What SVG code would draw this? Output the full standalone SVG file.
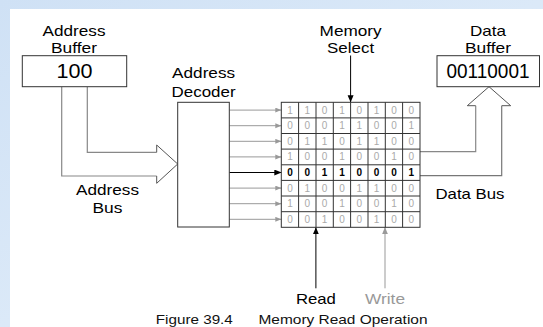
<svg xmlns="http://www.w3.org/2000/svg" width="543" height="327" viewBox="0 0 543 327">
<style>
.lbl{font-family:"Liberation Sans",Arial,sans-serif;font-size:15px;fill:#000;text-anchor:middle}
.big{font-family:"Liberation Sans",Arial,sans-serif;font-size:19.5px;fill:#000;text-anchor:middle}
.cap{font-family:"Liberation Sans",Arial,sans-serif;font-size:13px;fill:#111}
.d{font-family:"Liberation Sans",Arial,sans-serif;font-size:10px;fill:#aaa;text-anchor:middle}
.db{fill:#000;font-weight:bold}
.box{fill:#fff;stroke:#333;stroke-width:1}
.grid{fill:none;stroke:#333;stroke-width:1}
.g{stroke:#999;stroke-width:1;fill:none}
.k{stroke:#000;stroke-width:1;fill:none}
.bus{fill:none;stroke:#888;stroke-width:1.2}
.head{fill:none;stroke:#555;stroke-width:1}
</style>
<defs>
<marker id="ag" markerUnits="userSpaceOnUse" markerWidth="7" markerHeight="6" refX="6" refY="2.5" orient="auto"><path d="M0,0 L6,2.5 L0,5 z" fill="#999"/></marker>
<marker id="ak" markerUnits="userSpaceOnUse" markerWidth="7" markerHeight="7" refX="7" refY="3" orient="auto"><path d="M0,0 L7,3 L0,6 z" fill="#000"/></marker>
<marker id="ag2" markerUnits="userSpaceOnUse" markerWidth="7" markerHeight="7" refX="7" refY="3" orient="auto"><path d="M0,0 L7,3 L0,6 z" fill="#999"/></marker>
<linearGradient id="bg" x1="0" y1="0" x2="1" y2="1"><stop offset="0" stop-color="#cfe1f5"/><stop offset="0.5" stop-color="#dbe9f8"/><stop offset="1" stop-color="#d2e4f6"/></linearGradient>
</defs>
<rect x="0" y="0" width="543" height="327" fill="url(#bg)"/>
<rect x="10" y="9" width="533" height="318" fill="#fff"/>

<g id="connectors">
<path class="bus" d="M61.7,86.7 V176 H156.7"/>
<path class="bus" d="M87.3,86.7 V152.3 H156.7"/>
<path class="head" d="M156.7,152.3 V145 L177.7,164 L156.7,183.3 V176"/>
<path class="bus" d="M420,151.7 H475.7 V105.7"/>
<path class="bus" style="stroke:#777" d="M420,175.7 H501.7 V105.7"/>
<path class="head" d="M475.7,105.7 H467.3 L489,86.7 L510.7,105.7 H501.7"/>
<line class="g" x1="229.3" y1="110.1" x2="281.3" y2="110.1" marker-end="url(#ag)"/>
<line class="g" x1="229.3" y1="125.7" x2="281.3" y2="125.7" marker-end="url(#ag)"/>
<line class="g" x1="229.3" y1="141.3" x2="281.3" y2="141.3" marker-end="url(#ag)"/>
<line class="g" x1="229.3" y1="156.9" x2="281.3" y2="156.9" marker-end="url(#ag)"/>
<line class="k" x1="229.3" y1="172.5" x2="281.3" y2="172.5" marker-end="url(#ak)"/>
<line class="g" x1="229.3" y1="188.1" x2="281.3" y2="188.1" marker-end="url(#ag)"/>
<line class="g" x1="229.3" y1="203.7" x2="281.3" y2="203.7" marker-end="url(#ag)"/>
<line class="g" x1="229.3" y1="219.3" x2="281.3" y2="219.3" marker-end="url(#ag)"/>
<line class="k" x1="350.6" y1="55.5" x2="350.6" y2="102.3" marker-end="url(#ak)"/>
<line class="k" x1="315.9" y1="288.3" x2="315.9" y2="227.3" marker-end="url(#ak)"/>
<line class="g" x1="385" y1="288.3" x2="385" y2="227.3" marker-end="url(#ag2)"/>
</g>

<g id="address-buffer">
<text class="lbl" x="74" y="35.7" textLength="63" lengthAdjust="spacingAndGlyphs">Address</text>
<text class="lbl" x="74" y="53.3" textLength="46" lengthAdjust="spacingAndGlyphs">Buffer</text>
<rect class="box" x="22.3" y="55.7" width="104.4" height="31"/>
<text class="big" x="74.5" y="77.5" textLength="36" lengthAdjust="spacingAndGlyphs">100</text>
</g>

<g id="address-bus-label">
<text class="lbl" x="107.5" y="195" textLength="63" lengthAdjust="spacingAndGlyphs">Address</text>
<text class="lbl" x="107.5" y="213.3" textLength="30" lengthAdjust="spacingAndGlyphs">Bus</text>
</g>

<g id="address-decoder">
<text class="lbl" x="203.6" y="78.3" textLength="63" lengthAdjust="spacingAndGlyphs">Address</text>
<text class="lbl" x="203.6" y="96.7" textLength="64" lengthAdjust="spacingAndGlyphs">Decoder</text>
<rect class="box" x="177.7" y="102.3" width="51.6" height="124.7"/>
</g>

<g id="memory-select">
<text class="lbl" x="350.6" y="36" textLength="62" lengthAdjust="spacingAndGlyphs">Memory</text>
<text class="lbl" x="350.6" y="53.3" textLength="47" lengthAdjust="spacingAndGlyphs">Select</text>
</g>

<g id="memory-array">
<rect class="grid" x="281.3" y="102.3" width="138.7" height="125"/>
<path class="grid" d="M298.6,102.3V227.3M316,102.3V227.3M333.3,102.3V227.3M350.6,102.3V227.3M368,102.3V227.3M385.3,102.3V227.3M402.6,102.3V227.3M281.3,117.9H420M281.3,133.5H420M281.3,149.1H420M281.3,164.8H420M281.3,180.4H420M281.3,196H420M281.3,211.7H420"/>
<g class="d">
<text x="290" y="113.6">1</text><text x="307.3" y="113.6">1</text><text x="324.6" y="113.6">0</text><text x="342" y="113.6">1</text><text x="359.3" y="113.6">0</text><text x="376.6" y="113.6">1</text><text x="394" y="113.6">0</text><text x="411.3" y="113.6">0</text>
<text x="290" y="129.2">0</text><text x="307.3" y="129.2">0</text><text x="324.6" y="129.2">0</text><text x="342" y="129.2">1</text><text x="359.3" y="129.2">1</text><text x="376.6" y="129.2">0</text><text x="394" y="129.2">0</text><text x="411.3" y="129.2">1</text>
<text x="290" y="144.8">0</text><text x="307.3" y="144.8">1</text><text x="324.6" y="144.8">1</text><text x="342" y="144.8">0</text><text x="359.3" y="144.8">1</text><text x="376.6" y="144.8">1</text><text x="394" y="144.8">0</text><text x="411.3" y="144.8">0</text>
<text x="290" y="160.4">1</text><text x="307.3" y="160.4">0</text><text x="324.6" y="160.4">0</text><text x="342" y="160.4">1</text><text x="359.3" y="160.4">0</text><text x="376.6" y="160.4">0</text><text x="394" y="160.4">1</text><text x="411.3" y="160.4">0</text>
<g class="db">
<text x="290" y="176">0</text><text x="307.3" y="176">0</text><text x="324.6" y="176">1</text><text x="342" y="176">1</text><text x="359.3" y="176">0</text><text x="376.6" y="176">0</text><text x="394" y="176">0</text><text x="411.3" y="176">1</text>
</g>
<text x="290" y="191.6">0</text><text x="307.3" y="191.6">1</text><text x="324.6" y="191.6">0</text><text x="342" y="191.6">0</text><text x="359.3" y="191.6">1</text><text x="376.6" y="191.6">1</text><text x="394" y="191.6">0</text><text x="411.3" y="191.6">0</text>
<text x="290" y="207.2">1</text><text x="307.3" y="207.2">0</text><text x="324.6" y="207.2">0</text><text x="342" y="207.2">1</text><text x="359.3" y="207.2">0</text><text x="376.6" y="207.2">0</text><text x="394" y="207.2">1</text><text x="411.3" y="207.2">0</text>
<text x="290" y="222.8">0</text><text x="307.3" y="222.8">0</text><text x="324.6" y="222.8">1</text><text x="342" y="222.8">0</text><text x="359.3" y="222.8">0</text><text x="376.6" y="222.8">1</text><text x="394" y="222.8">0</text><text x="411.3" y="222.8">0</text>
</g>
</g>

<g id="data-buffer">
<text class="lbl" x="488" y="36" textLength="36" lengthAdjust="spacingAndGlyphs">Data</text>
<text class="lbl" x="488" y="53.3" textLength="46" lengthAdjust="spacingAndGlyphs">Buffer</text>
<rect class="box" x="437" y="55.7" width="102.5" height="31"/>
<text class="big" x="488" y="77.5" textLength="83" lengthAdjust="spacingAndGlyphs">00110001</text>
</g>

<g id="data-bus-label">
<text class="lbl" x="470" y="199" textLength="69" lengthAdjust="spacingAndGlyphs">Data Bus</text>
</g>

<g id="read">
<text class="lbl" x="315.9" y="304.3" textLength="40" lengthAdjust="spacingAndGlyphs">Read</text>
</g>
<g id="write">
<text class="lbl" x="385" y="304.3" style="fill:#999" textLength="40" lengthAdjust="spacingAndGlyphs">Write</text>
</g>

<g id="caption">
<text class="cap" x="155.8" y="323.5" textLength="77" lengthAdjust="spacingAndGlyphs">Figure 39.4</text>
<text class="cap" x="258.5" y="323.5" textLength="169" lengthAdjust="spacingAndGlyphs">Memory Read Operation</text>
</g>
</svg>
